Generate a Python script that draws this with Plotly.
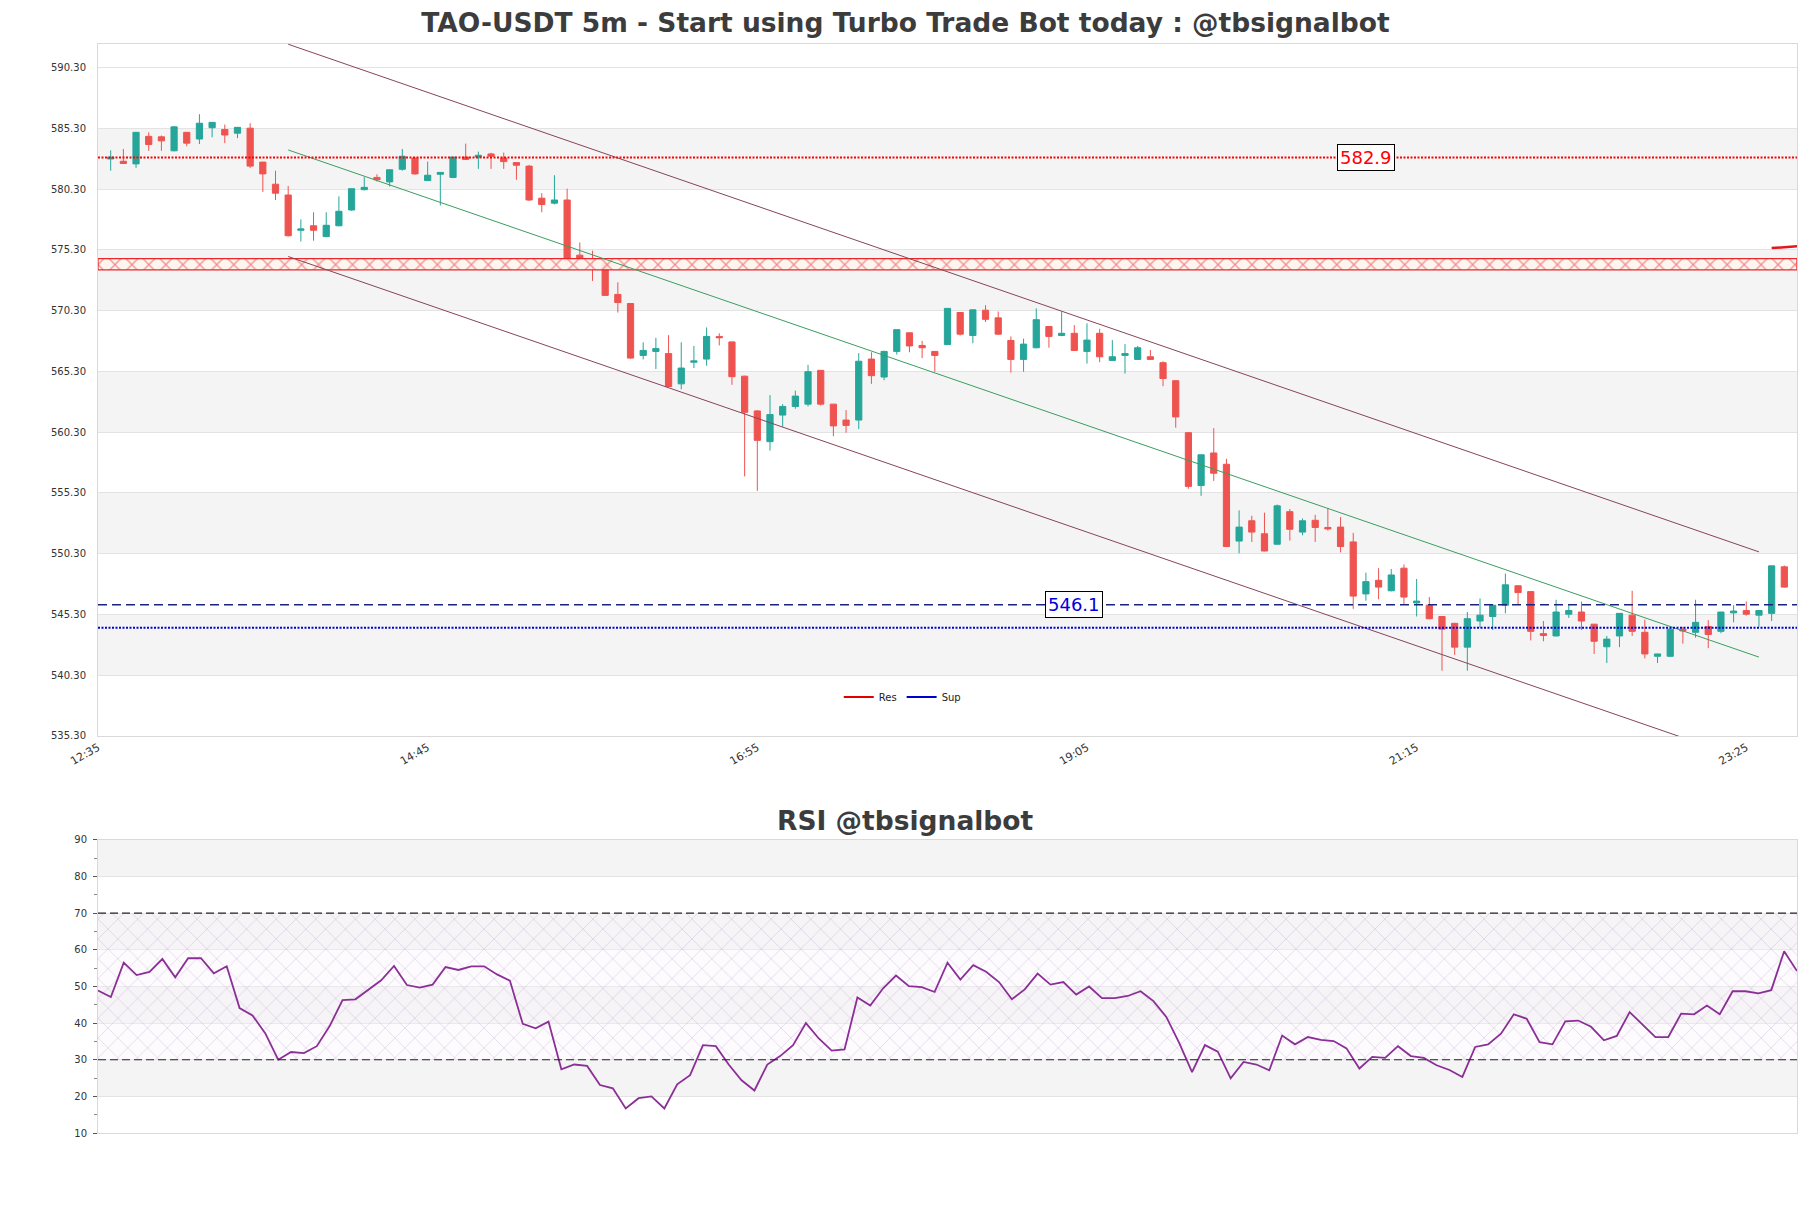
import pandas as pd
import plotly.graph_objects as go

# ── data ─────────────────────────────────────
TIMES = pd.date_range("2024-06-20 12:40", periods=133, freq="5min")

OPEN = [582.79, 582.60, 582.38, 584.65, 584.61, 583.46, 584.98, 584.43, 585.36, 585.21,
        584.91, 585.32, 582.53, 580.71, 579.82, 576.92, 577.29, 576.40, 577.29, 578.59,
        580.26, 581.27, 580.90, 581.94, 582.86, 581.01, 581.53, 581.27, 582.94, 582.94,
        583.20, 582.86, 582.49, 582.20, 579.56, 579.15, 579.41, 574.87, 574.57, 574.17,
        571.64, 570.89, 566.62, 566.95, 566.77, 564.28, 566.06, 566.32, 568.18, 567.73,
        564.91, 562.05, 559.52, 561.71, 562.42, 562.61, 565.39, 562.61, 561.30, 561.30,
        566.32, 564.84, 566.95, 568.48, 567.44, 566.95, 567.51, 570.15, 568.26, 570.34,
        569.71, 567.85, 566.29, 567.25, 569.00, 568.26, 568.44, 566.95, 568.44, 566.21,
        566.62, 566.29, 566.51, 566.02, 564.54, 560.26, 555.91, 558.59, 557.66, 551.34,
        553.01, 551.94, 551.08, 553.76, 552.08, 553.05, 552.46, 552.49, 551.27, 546.99,
        548.11, 547.25, 549.11, 546.25, 546.06, 545.13, 544.57, 542.61, 544.76, 545.13,
        546.06, 547.66, 547.18, 543.72, 543.53, 545.32, 545.50, 544.50, 542.64, 543.53,
        545.24, 543.83, 541.86, 541.86, 544.09, 543.83, 544.31, 543.91, 545.43, 545.62,
        545.24, 545.39, 549.22]
HIGH = [583.50, 583.61, 585.00, 584.98, 584.72, 585.50, 585.00, 586.47, 585.80, 585.62,
        585.40, 585.73, 582.55, 581.82, 580.56, 577.81, 578.40, 578.40, 579.71, 580.36,
        581.30, 581.53, 581.90, 583.61, 582.90, 582.57, 581.70, 582.95, 584.05, 583.39,
        583.30, 583.31, 582.50, 582.30, 579.97, 581.45, 580.34, 575.91, 575.24, 574.54,
        572.64, 570.90, 567.70, 568.07, 568.29, 567.70, 567.40, 568.92, 568.44, 567.75,
        564.95, 562.12, 563.35, 562.61, 563.72, 565.84, 565.40, 562.62, 562.12, 566.81,
        566.88, 567.00, 568.75, 568.50, 567.81, 566.96, 570.50, 570.20, 570.40, 570.75,
        570.23, 568.18, 568.00, 570.49, 569.01, 570.23, 569.11, 569.26, 568.81, 567.88,
        567.55, 567.40, 567.07, 566.14, 564.55, 560.30, 558.45, 560.63, 558.11, 553.87,
        553.42, 553.68, 554.35, 553.98, 553.20, 553.50, 554.05, 553.31, 552.01, 548.74,
        549.11, 549.04, 549.41, 548.22, 546.73, 545.15, 544.60, 545.50, 546.62, 546.10,
        548.66, 547.70, 547.20, 544.76, 546.51, 546.06, 546.36, 544.51, 543.53, 545.40,
        547.25, 544.87, 542.06, 544.20, 544.28, 546.51, 544.83, 545.51, 546.06, 546.36,
        545.65, 549.31, 549.33]
LOW = [581.82, 582.38, 582.05, 583.46, 583.46, 583.42, 583.83, 584.02, 584.57, 584.09,
       584.50, 582.05, 580.08, 579.41, 576.40, 575.99, 576.06, 576.35, 577.25, 578.52,
       580.20, 580.93, 580.52, 581.82, 581.50, 580.98, 578.96, 581.20, 582.70, 581.97,
       581.97, 581.97, 581.08, 579.33, 578.40, 579.04, 574.05, 574.60, 572.75, 571.50,
       570.15, 566.35, 566.29, 565.50, 564.00, 563.83, 565.58, 565.77, 567.44, 564.20,
       556.66, 555.47, 558.78, 560.75, 562.23, 562.42, 562.50, 559.97, 560.26, 560.56,
       564.28, 564.58, 566.69, 566.88, 566.40, 565.28, 567.50, 568.26, 567.62, 569.37,
       568.30, 565.21, 565.28, 567.20, 567.25, 568.20, 567.00, 565.95, 566.06, 566.20,
       565.13, 566.25, 566.25, 564.09, 560.67, 555.65, 555.06, 556.29, 550.85, 550.34,
       551.27, 550.50, 551.05, 551.38, 551.82, 551.27, 552.20, 550.41, 545.76, 546.43,
       546.54, 547.20, 546.14, 545.13, 544.90, 540.67, 541.97, 540.67, 544.20, 544.02,
       545.39, 546.06, 543.16, 543.09, 543.50, 545.02, 544.02, 542.05, 541.30, 542.61,
       543.53, 541.68, 541.30, 541.80, 542.90, 543.39, 542.53, 543.76, 544.65, 545.20,
       544.28, 544.76, 547.50]
CLOSE = [582.94, 582.42, 584.98, 583.98, 584.28, 585.43, 584.09, 585.73, 585.80, 584.76,
         585.39, 582.20, 581.56, 579.97, 576.47, 577.03, 576.92, 577.33, 578.48, 580.34,
         580.45, 581.08, 581.90, 583.01, 581.56, 581.45, 581.68, 582.94, 582.75, 583.09,
         583.01, 582.57, 582.27, 579.41, 579.04, 579.41, 574.43, 574.61, 574.46, 571.56,
         570.97, 566.40, 567.03, 567.18, 564.06, 565.58, 566.17, 568.18, 568.07, 564.87,
         561.94, 559.63, 561.75, 562.42, 563.27, 565.28, 562.61, 560.82, 560.86, 566.14,
         564.95, 566.95, 568.74, 567.40, 567.25, 566.62, 570.49, 568.37, 570.37, 569.59,
         568.37, 566.29, 567.55, 569.56, 568.18, 568.44, 567.03, 567.88, 566.51, 566.51,
         566.77, 567.25, 566.29, 564.72, 561.56, 555.84, 558.44, 556.92, 550.89, 552.49,
         552.08, 550.52, 554.24, 552.31, 553.01, 552.46, 552.34, 550.89, 546.81, 548.00,
         547.55, 548.55, 546.73, 546.40, 544.95, 544.09, 542.61, 544.95, 545.24, 546.06,
         547.74, 547.10, 543.91, 543.57, 545.50, 545.62, 544.76, 543.09, 543.27, 545.39,
         543.91, 542.05, 542.05, 544.09, 543.94, 544.65, 543.65, 545.50, 545.58, 545.32,
         545.62, 549.30, 547.55]

RSI = [48.9, 47.1, 56.5, 53.1, 54.0, 57.5, 52.5, 57.7, 57.7, 53.6,
       55.5, 44.1, 42.1, 37.2, 30.0, 32.1, 31.8, 33.7, 39.2, 46.3,
       46.5, 49.1, 51.7, 55.6, 50.4, 49.7, 50.5, 55.3, 54.5, 55.5,
       55.5, 53.3, 51.6, 39.8, 38.6, 40.4, 27.4, 28.7, 28.3, 23.1,
       22.2, 16.7, 19.5, 20.0, 16.7, 23.3, 25.8, 34.0, 33.7, 28.7,
       24.4, 21.6, 28.7, 31.0, 34.0, 40.0, 35.8, 32.5, 32.8, 47.0,
       44.8, 49.5, 53.0, 50.1, 49.8, 48.5, 56.5, 51.9, 55.8, 54.0,
       51.2, 46.5, 49.2, 53.5, 50.5, 51.2, 47.8, 50.0, 46.8, 46.8,
       47.4, 48.7, 46.0, 41.7, 34.6, 26.6, 34.0, 32.2, 24.9, 29.4,
       28.7, 27.1, 36.6, 34.2, 36.2, 35.4, 35.1, 33.1, 27.6, 30.8,
       30.5, 33.7, 31.0, 30.5, 28.5, 27.2, 25.3, 33.5, 34.2, 37.1,
       42.4, 41.2, 34.8, 34.2, 40.5, 40.7, 39.0, 35.3, 36.5, 43.0,
       39.6, 36.2, 36.2, 42.6, 42.4, 44.8, 42.4, 48.7, 48.7, 48.1,
       49.0, 59.6, 54.2]

PRICE_TICKS = [535.30, 540.30, 545.30, 550.30, 555.30, 560.30,
               565.30, 570.30, 575.30, 580.30, 585.30, 590.30]
PRICE_RANGE = [535.30, 592.25]
RSI_TICKS = [10, 20, 30, 40, 50, 60, 70, 80, 90]

RES_LEVEL = 582.9
RES_ZONE = [573.66, 574.59]
SUP_LEVEL = 546.1
SUP_DOTTED = 544.2
LAST_MARK = [575.45, 575.60]

# channel: (candle index, upper, middle, lower)
CHANNEL_IDX = [14, 130]
CHANNEL_UPPER = [592.23, 550.45]
CHANNEL_MID = [583.53, 541.79]
CHANNEL_LOWER = [574.76, 533.00]

RES_LABEL_IDX = 99
SUP_LABEL_IDX = 76

UP = "#26a69a"
DOWN = "#ef5350"
FONT = "DejaVu Sans"
TITLE_COLOR = "#3c3c3c"

# ── figure ───────────────────────────────────
step = TIMES[1] - TIMES[0]
x_start, x_end = TIMES[0] - step, TIMES[-1] + step
chan_x = [TIMES[i] for i in CHANNEL_IDX]

fig = go.Figure()

# resistance zone with cross hatch
fig.add_trace(go.Scatter(
    x=[x_start, x_end, x_end, x_start, x_start],
    y=[RES_ZONE[0], RES_ZONE[0], RES_ZONE[1], RES_ZONE[1], RES_ZONE[0]],
    mode="lines", fill="toself", fillcolor="rgba(0,0,0,0)",
    fillpattern=dict(shape="x", fgcolor="#e8262b", bgcolor="rgba(255,246,238,0.9)",
                     size=12, solidity=0.2),
    line=dict(color="#e8262b", width=1.2),
    hoverinfo="skip", showlegend=False,
))

# channel
for ys, color in [(CHANNEL_UPPER, "#874458"), (CHANNEL_LOWER, "#874458"), (CHANNEL_MID, "#3a9e5f")]:
    fig.add_trace(go.Scatter(
        x=chan_x, y=ys, mode="lines",
        line=dict(color=color, width=1),
        hoverinfo="skip", showlegend=False,
    ))

fig.add_trace(go.Candlestick(
    x=TIMES, open=OPEN, high=HIGH, low=LOW, close=CLOSE,
    increasing=dict(line=dict(color=UP, width=1), fillcolor=UP),
    decreasing=dict(line=dict(color=DOWN, width=1), fillcolor=DOWN),
    whiskerwidth=0, showlegend=False,
))

# legend entries
fig.add_trace(go.Scatter(x=[None], y=[None], mode="lines", name="Res",
                         line=dict(color="#e00000", width=2)))
fig.add_trace(go.Scatter(x=[None], y=[None], mode="lines", name="Sup",
                         line=dict(color="#0000cc", width=2)))

# RSI
fig.add_trace(go.Scatter(
    x=[TIMES[0], TIMES[-1], TIMES[-1], TIMES[0], TIMES[0]],
    y=[30, 30, 70, 70, 30],
    mode="lines", fill="toself", fillcolor="rgba(0,0,0,0)",
    fillpattern=dict(shape="x", fgcolor="rgba(175,140,195,0.75)", bgcolor="rgba(248,242,250,0.35)",
                     size=14, solidity=0.1),
    line=dict(width=0), xaxis="x2", yaxis="y2",
    hoverinfo="skip", showlegend=False,
))
fig.add_trace(go.Scatter(
    x=TIMES, y=RSI, mode="lines", xaxis="x2", yaxis="y2",
    line=dict(color="#8b2f97", width=1.8), showlegend=False,
))

# alternating bands
shapes = []
for lo, hi in zip(PRICE_TICKS[1::2], PRICE_TICKS[2::2]):
    shapes.append(dict(type="rect", xref="x domain", x0=0, x1=1, yref="y", y0=lo, y1=hi,
                       fillcolor="#f4f4f4", line=dict(width=0), layer="below"))
for lo, hi in zip(RSI_TICKS[1::2], RSI_TICKS[2::2]):
    shapes.append(dict(type="rect", xref="x2 domain", x0=0, x1=1, yref="y2", y0=lo, y1=hi,
                       fillcolor="#f4f4f4", line=dict(width=0), layer="below"))

# levels
shapes += [
    dict(type="line", xref="x domain", x0=0, x1=1, yref="y", y0=RES_LEVEL, y1=RES_LEVEL,
         line=dict(color="#ff0000", width=2, dash="2px,1.5px")),
    dict(type="line", xref="x domain", x0=0, x1=1, yref="y", y0=SUP_LEVEL, y1=SUP_LEVEL,
         line=dict(color="#1a237e", width=1.3, dash="9px,5px")),
    dict(type="line", xref="x domain", x0=0, x1=1, yref="y", y0=SUP_DOTTED, y1=SUP_DOTTED,
         line=dict(color="#0000dd", width=2, dash="2px,1.5px")),
    dict(type="line", xref="x", x0=TIMES[-2], x1=x_end, yref="y", y0=LAST_MARK[0], y1=LAST_MARK[1],
         line=dict(color="#e3171b", width=2.5)),
]
for lvl in (70, 30):
    shapes.append(dict(type="line", xref="x2 domain", x0=0, x1=1, yref="y2", y0=lvl, y1=lvl,
                       line=dict(color="#222222", width=1.2, dash="8px,4px")))

annotations = [
    dict(x=TIMES[RES_LABEL_IDX], y=RES_LEVEL, xref="x", yref="y", text=f"{RES_LEVEL}",
         showarrow=False, font=dict(family=FONT, size=18, color="#ff0000"),
         bgcolor="white", bordercolor="black", borderwidth=1, borderpad=2),
    dict(x=TIMES[SUP_LABEL_IDX], y=SUP_LEVEL, xref="x", yref="y", text=f"{SUP_LEVEL}",
         showarrow=False, font=dict(family=FONT, size=18, color="#0000dd"),
         bgcolor="white", bordercolor="black", borderwidth=1, borderpad=2),
    dict(x=0.4753, y=0.2874, xref="paper", yref="paper", text="RSI @tbsignalbot",
         showarrow=False, xanchor="center", yanchor="middle",
         font=dict(family=FONT, size=26.5, color=TITLE_COLOR, weight="bold")),
]

frame = dict(showline=True, linecolor="#d9d9d9", linewidth=1, mirror=True, zeroline=False)

# the page body adds an 8px margin, so the figure is 16px smaller than the window
fig.update_layout(
    width=1795, height=1192,
    margin=dict(l=90, r=6, t=36, b=67),
    paper_bgcolor="white", plot_bgcolor="white",
    font=dict(family=FONT, size=10, color="#333333"),
    title=dict(text="TAO-USDT 5m - Start using Turbo Trade Bot today : @tbsignalbot",
               x=0.5, xref="container", xanchor="center",
               y=1 - 15 / 1192, yref="container", yanchor="middle",
               font=dict(family=FONT, size=26.5, color=TITLE_COLOR, weight="bold")),
    xaxis=dict(domain=[0, 1], anchor="y", type="date", range=[x_start, x_end],
               tick0=x_start, dtick=130 * 60 * 1000, tickformat="%H:%M", tickangle=-30,
               tickfont=dict(size=11, color="#333333"), showgrid=False,
               rangeslider=dict(visible=False), **frame),
    yaxis=dict(domain=[0.3646, 1], anchor="x", range=PRICE_RANGE,
               tickvals=PRICE_TICKS, ticktext=[f"{v:.2f}" for v in PRICE_TICKS],
               tickfont=dict(size=10, color="#333333"), ticklabelstandoff=9,
               showgrid=True, gridcolor="#e3e3e3", gridwidth=1, **frame),
    xaxis2=dict(domain=[0, 1], anchor="y2", type="date", range=[TIMES[0], TIMES[-1]],
                showticklabels=False, showgrid=False, **frame),
    yaxis2=dict(domain=[0, 0.2691], anchor="x2", range=[10, 90], tickvals=RSI_TICKS,
                ticks="outside", ticklen=4, tickcolor="#555555",
                minor=dict(dtick=5, ticks="outside", ticklen=3, tickcolor="#888888", showgrid=False),
                tickfont=dict(size=10, color="#333333"), ticklabelstandoff=4,
                showgrid=True, gridcolor="#e3e3e3", gridwidth=1, **frame),
    legend=dict(orientation="h", x=0.436, y=0.4004, xanchor="left", yanchor="middle",
                font=dict(size=10, color="#222222"), bgcolor="rgba(0,0,0,0)", itemwidth=30),
    shapes=shapes,
    annotations=annotations,
    hovermode=False,
)

fig.write_html("out.html")
